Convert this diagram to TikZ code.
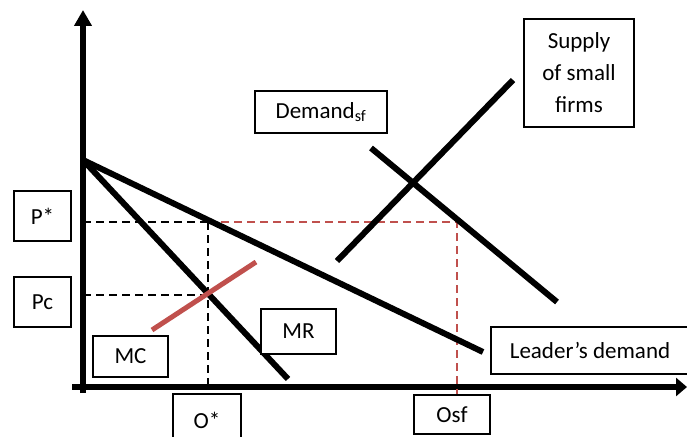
\documentclass[tikz,border=0pt]{standalone}
\usepackage{fontspec}
\setmainfont{Carlito}
\usetikzlibrary{arrows.meta}
\definecolor{accentred}{HTML}{C0504D}
\tikzset{
  curve/.style={line width=6pt},
  axis/.style={line width=6pt},
  mcline/.style={line width=5pt, accentred},
  guide/.style={line width=2pt, dash pattern=on 8pt off 5pt},
  redguide/.style={guide, accentred},
  labelbox/.style={draw, line width=1.2pt, rectangle, inner sep=0pt, outer sep=0pt,
    font=\fontsize{23}{32}\selectfont, align=center},
}
\begin{document}
\begin{tikzpicture}[x=1pt,y=-1pt]
\clip (0,0) rectangle (687,436);

% axes
\coordinate (yb) at (83,393);
\coordinate (yt) at (83,10);
\coordinate (xl) at (72,387);
\coordinate (xr) at (687,387);
\draw[axis,-{Triangle[length=16pt,width=17pt]}] (yb) -- (yt);
\draw[axis,-{Triangle[length=11pt,width=18pt]}] (xl) -- (xr);

% key points
\coordinate (top) at (83,160);
\coordinate (Ps) at (83,222);
\coordinate (Pcy) at (83,295);
\coordinate (E) at (208,222);
\coordinate (Ec) at (208,295);
\coordinate (Eo) at (208,385);
\coordinate (F) at (457,222);
\coordinate (Fo) at (457,395);

% guide lines
\draw[guide] (Ps) -- (E);
\draw[guide] (Pcy) -- (Ec);
\draw[guide] (E) -- (Eo);
\draw[redguide] (E) -- (F) -- (Fo);

% curves
\coordinate (ldend) at (483,352);
\coordinate (mrend) at (288,379);
\coordinate (mca) at (152,330);
\coordinate (mcb) at (256,262);
\coordinate (sa) at (337,261);
\coordinate (sb) at (513,80);
\coordinate (da) at (371,148);
\coordinate (db) at (557,302);
\draw[curve] (top) -- (ldend);
\draw[curve] (top) -- (mrend);
\draw[curve] (sa) -- (sb);
\draw[curve] (da) -- (db);
\draw[mcline] (mca) -- (mcb);

% labels
\node[labelbox, fill=white, minimum width=57pt, minimum height=50pt] (pstar) at (42.5,216) {P*};
\node[labelbox, fill=white, minimum width=57pt, minimum height=50pt] (pc) at (42.5,302) {Pc};
\node[labelbox, fill=white, minimum width=75pt, minimum height=41pt] (mc) at (130.5,356.5) {MC};
\node[labelbox, fill=white, minimum width=75pt, minimum height=45pt] (mr) at (298.5,331.5) {MR};
\node[labelbox, fill=white, minimum width=68pt, minimum height=52pt] (ostar) at (207,420) {O*};
\node[labelbox, fill=white, minimum width=76pt, minimum height=39pt] (osf) at (452,414.5) {Osf};
\node[labelbox, fill=white, minimum width=198pt, minimum height=47pt] (leader) at (590,350.5) {Leader’s demand};
\node[labelbox, fill=white, minimum width=132pt, minimum height=42pt] (dsf) at (321,112) {Demand\textsubscript{sf}};
\node[labelbox, fill=white, minimum width=110pt, minimum height=108pt] (supply) at (579,73) {Supply\\of small\\firms};
\end{tikzpicture}
\end{document}
